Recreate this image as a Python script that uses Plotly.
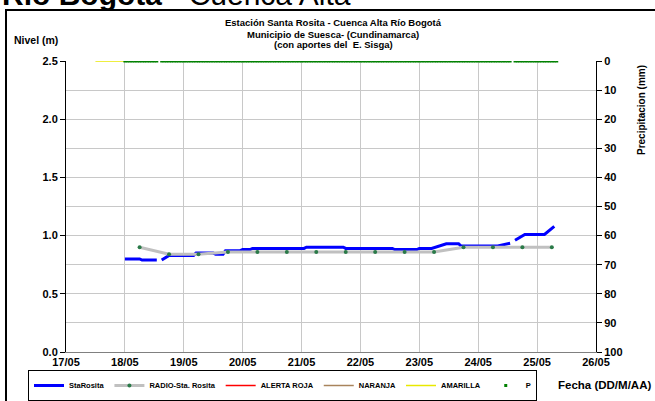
import pandas as pd
import plotly.graph_objects as go

# --- data ---
sta_time = ["2012-05-18 00:00", "2012-05-18 06:00", "2012-05-18 07:00", "2012-05-18 13:00",
            "2012-05-18 14:00",
            "2012-05-18 15:00", "2012-05-18 18:00", "2012-05-19 04:00", "2012-05-19 05:00",
            "2012-05-19 12:00", "2012-05-19 13:00", "2012-05-19 16:00", "2012-05-19 17:00",
            "2012-05-19 23:00", "2012-05-20 00:00", "2012-05-20 03:00", "2012-05-20 04:00",
            "2012-05-21 01:00", "2012-05-21 02:00", "2012-05-21 17:00", "2012-05-21 18:00",
            "2012-05-22 13:00", "2012-05-22 14:00", "2012-05-22 23:00", "2012-05-23 00:00",
            "2012-05-23 05:00", "2012-05-23 08:00", "2012-05-23 11:00", "2012-05-23 16:00",
            "2012-05-23 17:00", "2012-05-24 08:00", "2012-05-24 13:00",
            "2012-05-24 14:00",
            "2012-05-24 15:00", "2012-05-24 19:00", "2012-05-25 03:00", "2012-05-25 07:00"]
sta_level = [0.80, 0.80, 0.79, 0.79,
             None,
             0.79, 0.83, 0.83, 0.85,
             0.85, 0.84, 0.84, 0.87,
             0.87, 0.88, 0.88, 0.89,
             0.89, 0.90, 0.90, 0.89,
             0.89, 0.88, 0.88, 0.89,
             0.89, 0.91, 0.93, 0.93,
             0.91, 0.91, 0.935,
             None,
             0.96, 1.01, 1.01, 1.08]

radio_time = ["2012-05-18 06:00", "2012-05-18 18:00", "2012-05-19 06:00", "2012-05-19 18:00",
              "2012-05-20 06:00", "2012-05-20 18:00", "2012-05-21 06:00", "2012-05-21 18:00",
              "2012-05-22 06:00", "2012-05-22 18:00", "2012-05-23 06:00", "2012-05-23 18:00",
              "2012-05-24 06:00", "2012-05-24 18:00", "2012-05-25 06:00"]
radio_level = [0.90, 0.84, 0.84, 0.86, 0.86, 0.86, 0.86, 0.86,
               0.86, 0.86, 0.86, 0.90, 0.90, 0.90, 0.90]

alert_time = ["2012-05-17 12:00", "2012-05-18 00:00"]
alerta_roja = [3.0, 3.0]
naranja = [2.8, 2.8]
amarilla = [2.5, 2.5]

# hourly rain gauge, all readings 0 mm, two missing hours
p_start = "2012-05-18 00:00"
p_end = "2012-05-25 08:00"
p_missing = ["2012-05-18 14:00", "2012-05-24 14:00"]
p_value_mm = 0.0

p_time = pd.date_range(p_start, p_end, freq="h")
p_time = p_time[~p_time.isin(pd.to_datetime(p_missing))]
p_vals = [p_value_mm] * len(p_time)

title_lines = ["Estación Santa Rosita - Cuenca Alta Río Bogotá",
               "Municipio de Suesca- (Cundinamarca)",
               "(con aportes del  E. Sisga)"]

FONT = "Arial, Liberation Sans, sans-serif"

fig = go.Figure()
fig.add_trace(go.Scatter(x=pd.to_datetime(sta_time), y=sta_level, name="StaRosita", mode="lines",
                         line=dict(color="#0000ff", width=3), connectgaps=False))
fig.add_trace(go.Scatter(x=pd.to_datetime(radio_time), y=radio_level, name="RADIO-Sta. Rosita",
                         mode="lines+markers", line=dict(color="#c0c0c0", width=3),
                         marker=dict(color="#2a7a48", size=4)))
fig.add_trace(go.Scatter(x=pd.to_datetime(alert_time), y=alerta_roja, name="ALERTA ROJA", mode="lines",
                         line=dict(color="#ff0000", width=1.5)))
fig.add_trace(go.Scatter(x=pd.to_datetime(alert_time), y=naranja, name="NARANJA", mode="lines",
                         line=dict(color="#a8845c", width=1.5)))
fig.add_trace(go.Scatter(x=pd.to_datetime(alert_time), y=amarilla, name="AMARILLA", mode="lines",
                         line=dict(color="#e8e800", width=1.5)))
fig.add_trace(go.Scatter(x=p_time, y=p_vals, name="P", mode="markers", yaxis="y2",
                         marker=dict(color="#008000", size=3, symbol="square")))

# plot area in pixels: x 66..596, y 61..352
L, R, T, B = 66, 596, 61, 352
W, H = R - L, B - T


def px(x):
    return (x - L) / W


def py(y):
    return (B - y) / H


tick_font = dict(family=FONT, size=11, color="black", weight="bold")

fig.update_layout(
    width=655, height=401,
    margin=dict(l=L, r=655 - R, t=T, b=401 - B, autoexpand=False),
    paper_bgcolor="white", plot_bgcolor="white",
    showlegend=True,
    font=dict(family=FONT, color="black"),
    xaxis=dict(type="date", range=["2012-05-17", "2012-05-26"], dtick=86400000, tickformat="%d/%m",
               showgrid=True, gridcolor="#c8c8c8", gridwidth=1, showline=True, linecolor="#808080",
               ticks="", tickfont=tick_font, zeroline=False),
    yaxis=dict(range=[0, 2.5], dtick=0.5, tickformat=".1f", showgrid=False, showline=True,
               linecolor="black", ticks="outside", ticklen=5, tickcolor="black", tickfont=tick_font,
               zeroline=False),
    yaxis2=dict(range=[100, 0], dtick=10, overlaying="y", side="right", showgrid=True,
                gridcolor="#c8c8c8", gridwidth=1, showline=True, linecolor="black",
                ticks="outside", ticklen=5, tickcolor="black", tickfont=tick_font, zeroline=False),
    legend=dict(orientation="h", x=px(28), y=py(370), xanchor="left", yanchor="top",
                bordercolor="black", borderwidth=1, bgcolor="white",
                font=dict(family=FONT, size=7.5, color="black", weight="bold"),
                itemwidth=30, tracegroupgap=0),
)

for line_text, ycen in zip(title_lines, [22, 34, 45]):
    fig.add_annotation(xref="paper", yref="paper", x=px(333), y=py(ycen), xanchor="center",
                       yanchor="middle", text=f"<b>{line_text}</b>", showarrow=False,
                       font=dict(family=FONT, size=9.5, color="black"))
fig.add_annotation(xref="paper", yref="paper", x=px(12), y=py(40), xanchor="left", yanchor="middle",
                   text="<b>Nivel (m)</b>", showarrow=False, font=dict(family=FONT, size=10.5, color="black"))
fig.add_annotation(xref="paper", yref="paper", x=px(642), y=py(110), xanchor="center", yanchor="middle",
                   text="<b>Precipitacion (mm)</b>", textangle=-90, showarrow=False,
                   font=dict(family=FONT, size=10, color="black"))
fig.add_annotation(xref="paper", yref="paper", x=px(653), y=py(385), xanchor="right", yanchor="middle",
                   text="<b>Fecha (DD/M/AA)</b>", showarrow=False, font=dict(family=FONT, size=11.5, color="black"))
# page heading cut off at the top
fig.add_annotation(xref="paper", yref="paper", x=px(0), y=py(13), xanchor="left", yanchor="bottom",
                   text="<b>Río Bogotá</b> - Cuenca Alta", showarrow=False,
                   font=dict(family=FONT, size=30, color="black"))

# outer chart frame (left and top edges visible)
fig.add_shape(type="rect", xref="paper", yref="paper", x0=px(6), y0=py(430), x1=px(700), y1=py(10),
              line=dict(color="black", width=2), layer="above")

fig.write_html("out.html", config={"displayModeBar": False},
               post_script="document.body.style.margin='0';")
